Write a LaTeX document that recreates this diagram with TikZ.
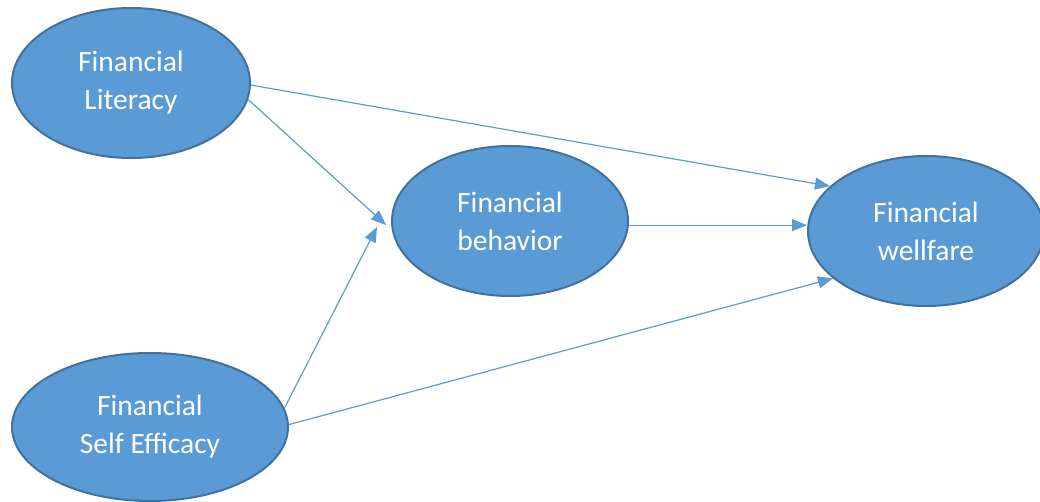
\documentclass[tikz,border=0pt]{standalone}
\usepackage{fontspec}
\setmainfont{Carlito}
\usetikzlibrary{shapes.geometric,arrows.meta,calc}
\definecolor{boxfill}{HTML}{5B9BD5}
\definecolor{boxedge}{HTML}{41719C}
\definecolor{linkcol}{HTML}{5B9BD5}
\begin{document}
\begin{tikzpicture}[x=1pt,y=-1pt,
  construct/.style={ellipse, draw=boxedge, line width=2pt, fill=boxfill,
    inner sep=0pt, text=white, align=center,
    font=\fontsize{29.5}{38}\selectfont},
  link/.style={draw=linkcol, line width=1.2pt,
    -{Triangle[length=15pt,width=12pt]}}
]
\useasboundingbox (0,0) rectangle (1040,502);
% constructs of the model
\node[construct, minimum width=238pt, minimum height=150pt] (lit) at (131,83)
  {Financial\\Literacy};
\node[construct, minimum width=236pt, minimum height=150pt] (beh) at (510,221)
  {Financial\\behavior};
\node[construct, minimum width=236pt, minimum height=150pt] (wel) at (926,231)
  {Financial\\wellfare};
\node[construct, minimum width=276pt, minimum height=148pt] (eff) at (150,427)
  {Financial\\Self Efficacy};
% hypothesised paths
\draw[link] (lit.-1.5) -- (wel.155.4);
\draw[link] (lit.-8) -- ($(beh.west)+(-5,4)$);
\draw[link] (eff.8.2) -- ($(beh.west)+(-14,6)$);
\draw[link] (eff.1.6) -- (wel.-153);
\draw[link] (beh.-2) -- (beh.-2 -| wel.west);
\end{tikzpicture}
\end{document}
